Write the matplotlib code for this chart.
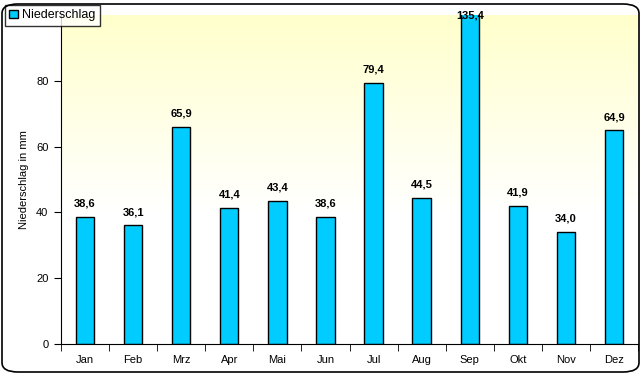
import numpy as np
import matplotlib.pyplot as plt
from matplotlib.patches import FancyBboxPatch

# Daten
monate = ["Jan", "Feb", "Mrz", "Apr", "Mai", "Jun", "Jul", "Aug", "Sep", "Okt", "Nov", "Dez"]
niederschlag = [38.6, 36.1, 65.9, 41.4, 43.4, 38.6, 79.4, 44.5, 135.4, 41.9, 34.0, 64.9]

plt.rcParams['font.family'] = ['Liberation Sans', 'DejaVu Sans']

fig = plt.figure(figsize=(6.43, 3.76), dpi=100)
W, H = 643, 376
ax = fig.add_axes([61 / W, 1 - 344 / H, (638 - 61) / W, (344 - 15) / H])

# Hintergrund-Verlauf (gelb oben -> weiss)
grad = np.linspace(0, 1, 256).reshape(-1, 1)
grad = np.clip((grad - 0.4) / 0.6, 0, 1)
top = np.array([1.0, 1.0, 0.8])
img = np.ones((256, 1, 3)) * (1 - grad[..., None]) + top * grad[..., None]
ax.imshow(img, extent=[-0.5, 11.5, 0, 100], aspect='auto', origin='lower', zorder=0)

x = np.arange(len(monate))
ax.bar(x, niederschlag, width=0.38, color="#00CCFF", edgecolor="black",
       linewidth=1, zorder=2, label="Niederschlag")

# Werte ueber den Balken (Sep wird am oberen Rand abgeschnitten)
for xi, v in zip(x, niederschlag):
    txt = f"{v:.1f}".replace(".", ",")
    if v > 100:
        ax.text(xi, 100, txt, ha="center", va="center", fontsize=8, fontweight="bold",
                zorder=3, clip_on=False)
    else:
        ax.text(xi, v + 2.5, txt, ha="center", va="bottom", fontsize=8, fontweight="bold",
                zorder=3)

ax.set_xlim(-0.5, 11.5)
ax.set_ylim(0, 100)
ax.set_yticks([0, 20, 40, 60, 80])
ax.set_xticks(x)
ax.set_xticklabels(monate, fontsize=8)
ax.set_xticks(np.arange(-0.5, 12, 1), minor=True)
ax.tick_params(axis='x', which='major', length=0, pad=8)
ax.tick_params(axis='x', which='minor', length=5, direction='out')
ax.tick_params(axis='y', length=5, direction='out', labelsize=8, pad=4)
for s in ["top", "right"]:
    ax.spines[s].set_visible(False)
ax.set_ylabel("Niederschlag in mm", fontsize=8, labelpad=5)

# Legende
ax.legend(loc="upper left", bbox_to_anchor=(5 / W, 1 - 5 / H), bbox_transform=fig.transFigure,
          fontsize=9, frameon=True, fancybox=False, edgecolor="black", handlelength=0.7,
          handleheight=0.7, handletextpad=0.3, borderpad=0.35, borderaxespad=0)
leg = ax.get_legend()
leg.get_frame().set_linewidth(1)

# Rahmen um die Grafik
fig.patches.append(FancyBboxPatch((2 / W, 4 / H), (639 - 2) / W, (372 - 4) / H,
                                  boxstyle="round,pad=0,rounding_size=0.025",
                                  transform=fig.transFigure, fill=False, edgecolor="black",
                                  linewidth=1.2))

fig.savefig("out.png", dpi=100)
